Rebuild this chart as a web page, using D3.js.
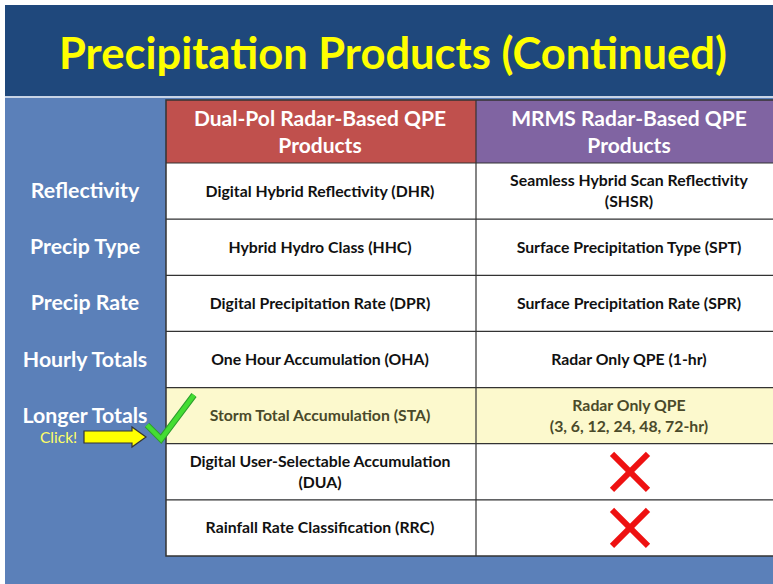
<!DOCTYPE html>
<html><head><meta charset="utf-8">
<script src="https://cdn.jsdelivr.net/npm/d3@7"></script>
<style>body{margin:0;background:#fff}svg{display:block}</style>
</head><body>
<script>
const title = "Precipitation Products (Continued)";
const headers = [["Dual-Pol Radar-Based QPE","Products"],["MRMS Radar-Based QPE","Products"]];
const rowLabels = ["Reflectivity","Precip Type","Precip Rate","Hourly Totals","Longer Totals","",""];
const dualPol = [["Digital Hybrid Reflectivity (DHR)"],["Hybrid Hydro Class (HHC)"],["Digital Precipitation Rate (DPR)"],["One Hour Accumulation (OHA)"],["Storm Total Accumulation (STA)"],["Digital User-Selectable Accumulation","(DUA)"],["Rainfall Rate Classification (RRC)"]];
const mrms = [["Seamless Hybrid Scan Reflectivity","(SHSR)"],["Surface Precipitation Type (SPT)"],["Surface Precipitation Rate (SPR)"],["Radar Only QPE (1-hr)"],["Radar Only QPE","(3, 6, 12, 24, 48, 72-hr)"],null,null];
const highlightRow = 4;

const W=773,H=584;
const svg=d3.select("body").append("svg").attr("width",W).attr("height",H);
const FONT="Lato, 'Open Sans', sans-serif";

svg.append("rect").attr("x",5).attr("y",5).attr("width",W-5).attr("height",H-5).attr("fill","#5b80b9");
svg.append("rect").attr("x",5).attr("y",5).attr("width",W-5).attr("height",92).attr("fill","#1f487c");
svg.append("rect").attr("x",5).attr("y",96).attr("width",W-5).attr("height",2).attr("fill","#c8d4e6");

svg.append("text").attr("x",393).attr("y",69).attr("text-anchor","middle")
  .attr("font-family",FONT).attr("font-weight","bold").attr("font-size",43.5).attr("fill","#ffff00").text(title);

const colX=[166,476], colW=[310,320];
const y = d3.scaleBand().domain(d3.range(rowLabels.length)).range([163,556]);
const headTop=100, headBot=163;

// headers
const hc=["#c0504d","#8064a2"];
headers.forEach((h,i)=>{
  svg.append("rect").attr("x",colX[i]).attr("y",headTop).attr("width",colW[i]).attr("height",headBot-headTop).attr("fill",hc[i]);
  h.forEach((t,j)=>svg.append("text").attr("x",colX[i]+ (i==0?154:153)).attr("y",126+j*27).attr("text-anchor","middle")
    .attr("font-family",FONT).attr("font-weight","bold").attr("font-size",21).attr("fill","#fff").text(t));
});

// rows
rowLabels.forEach((lab,r)=>{
  const y0=y(r), bh=y.bandwidth(), cy=y0+bh/2;
  const hl = r===highlightRow;
  [dualPol[r],mrms[r]].forEach((lines,i)=>{
    svg.append("rect").attr("x",colX[i]).attr("y",y0).attr("width",colW[i]).attr("height",bh).attr("fill",hl?"#fcf9cd":"#fff");
    if(lines){
      const n=lines.length;
      lines.forEach((t,j)=>svg.append("text").attr("x",colX[i]+(i==0?154:153)).attr("y",cy+5.5+(j-(n-1)/2)*21)
        .attr("text-anchor","middle").attr("font-family",FONT).attr("font-weight","bold").attr("font-size",15.8)
        .attr("fill",hl?"#4a4a2a":"#111").text(t));
    } else {
      const cx=630, s=18;
      const g=svg.append("g").attr("stroke","#ee1111").attr("stroke-width",6).attr("stroke-linecap","butt");
      g.append("line").attr("x1",cx-s).attr("y1",cy-s).attr("x2",cx+s).attr("y2",cy+s);
      g.append("line").attr("x1",cx-s).attr("y1",cy+s).attr("x2",cx+s).attr("y2",cy-s);
    }
  });
  if(lab) svg.append("text").attr("x",85).attr("y",cy+7).attr("text-anchor","middle")
    .attr("font-family",FONT).attr("font-weight","bold").attr("font-size",21.3).attr("fill","#fff").text(lab);
});

// grid lines
const gl=svg.append("g").attr("stroke","#333").attr("stroke-width",1.2);
y.domain().forEach(r=>{ if(r>0) gl.append("line").attr("x1",166).attr("x2",W).attr("y1",y(r)).attr("y2",y(r)); });
gl.append("line").attr("x1",166).attr("x2",W).attr("y1",headBot).attr("y2",headBot);
gl.append("line").attr("x1",476).attr("x2",476).attr("y1",headTop).attr("y2",556);
svg.append("rect").attr("x",166).attr("y",headTop).attr("width",W).attr("height",556-headTop)
  .attr("fill","none").attr("stroke","#333").attr("stroke-width",1.5);

// arrow + click + check
svg.append("path").attr("d","M84,431 L132,431 L132,427 L146,437 L132,447 L132,443 L84,443 Z")
  .attr("fill","#ffff00").attr("stroke","#333").attr("stroke-width",1.2);
svg.append("text").attr("x",40).attr("y",443).attr("font-family",FONT).attr("font-size",15.5).attr("fill","#ffff66").text("Click!");
svg.append("path").attr("d","M147,425 L161,439 L194,395").attr("fill","none").attr("stroke","#2e9e2e").attr("stroke-width",6.5);
svg.append("path").attr("d","M147,425 L161,439 L194,395").attr("fill","none").attr("stroke","#44dd33").attr("stroke-width",4.5);
</script>
</body></html>
